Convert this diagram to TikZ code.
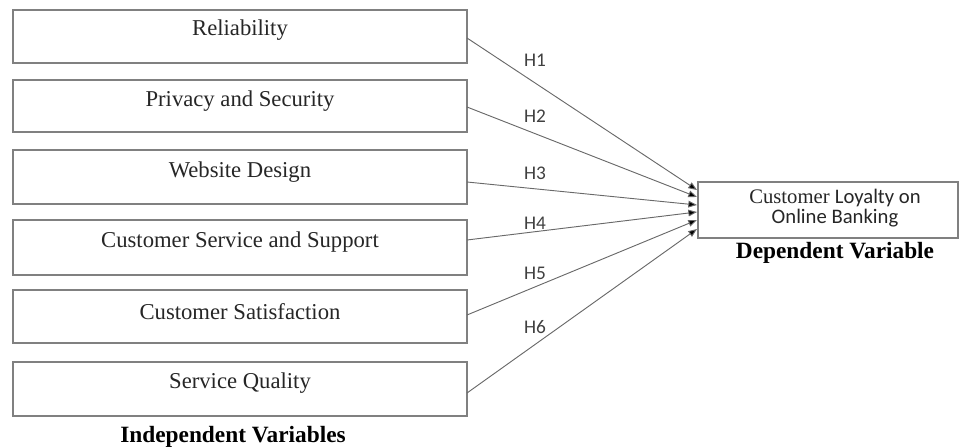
\documentclass[tikz,border=0pt]{standalone}
\usepackage[svgnames]{xcolor}
\usepackage{fontspec}
\setmainfont{Liberation Serif}
\newfontfamily\calibri{Carlito}
\usepackage{tikz}
\usetikzlibrary{arrows.meta}
\tikzstyle{none}=[inner sep=0pt]
\tikzstyle{simple}=[-,draw=Gray,line width=0.9pt]
\tikzstyle{hyp}=[-{Triangle[length=6.5pt,width=5pt,fill=Black]},draw=DimGray,line width=0.7pt]
\tikzstyle{var}=[inner sep=0pt,font=\fontsize{17}{19}\selectfont,text=Black!85]
\tikzstyle{hlabel}=[inner sep=0pt,font=\calibri\fontsize{14.5}{15}\selectfont,text=Black!75]
\tikzstyle{caption}=[inner sep=0pt,font=\bfseries\fontsize{17.5}{19}\selectfont]

\begin{document}
\begin{tikzpicture}[x=0.75pt,y=-0.75pt]
  \useasboundingbox (0,0) rectangle (960,448);
  % independent variables
  \node [style=none] (0) at (13, 10) {};
  \node [style=none] (1) at (467, 63) {};
  \node [style=var] (2) at (240, 30) {Reliability};
  \node [style=none] (3) at (13, 80) {};
  \node [style=none] (4) at (467, 132) {};
  \node [style=var] (5) at (240, 101) {Privacy and Security};
  \node [style=none] (6) at (13, 150) {};
  \node [style=none] (7) at (467, 204) {};
  \node [style=var] (8) at (240, 172) {Website Design};
  \node [style=none] (9) at (13, 220) {};
  \node [style=none] (10) at (467, 275) {};
  \node [style=var] (11) at (240, 242) {Customer Service and Support};
  \node [style=none] (12) at (13, 290) {};
  \node [style=none] (13) at (467, 343) {};
  \node [style=var] (14) at (240, 312) {Customer Satisfaction};
  \node [style=none] (15) at (13, 362) {};
  \node [style=none] (16) at (467, 416) {};
  \node [style=var] (17) at (240, 383) {Service Quality};
  \node [style=caption] (18) at (233, 437) {Independent Variables};
  % dependent variable
  \node [style=none] (19) at (698, 182) {};
  \node [style=none] (20) at (958, 238) {};
  \node [style=var, align=center, font=\fontsize{15.5}{15}\selectfont] (21) at (835, 208)
    {Customer {\calibri Loyalty on}\\ {\calibri Online Banking}};
  \node [style=caption] (22) at (835, 253) {Dependent Variable};
  % arrow ends
  \node [style=none] (23) at (467, 38) {};
  \node [style=none] (24) at (467, 107) {};
  \node [style=none] (25) at (467, 182) {};
  \node [style=none] (26) at (467, 240) {};
  \node [style=none] (27) at (467, 315) {};
  \node [style=none] (28) at (467, 393) {};
  \node [style=none] (29) at (697, 190) {};
  \node [style=none] (30) at (697, 197) {};
  \node [style=none] (31) at (697, 205) {};
  \node [style=none] (32) at (697, 212) {};
  \node [style=none] (33) at (697, 220) {};
  \node [style=none] (34) at (697, 229) {};
  % hypotheses
  \node [style=hlabel] (35) at (535, 60) {H1};
  \node [style=hlabel] (36) at (535, 116) {H2};
  \node [style=hlabel] (37) at (535, 173) {H3};
  \node [style=hlabel] (38) at (535, 223) {H4};
  \node [style=hlabel] (39) at (535, 273) {H5};
  \node [style=hlabel] (40) at (535, 327) {H6};
  \draw [style=simple] (0.center) rectangle (1.center);
  \draw [style=simple] (3.center) rectangle (4.center);
  \draw [style=simple] (6.center) rectangle (7.center);
  \draw [style=simple] (9.center) rectangle (10.center);
  \draw [style=simple] (12.center) rectangle (13.center);
  \draw [style=simple] (15.center) rectangle (16.center);
  \draw [style=simple] (19.center) rectangle (20.center);
  \draw [style=hyp] (23.center) to (29.center);
  \draw [style=hyp] (24.center) to (30.center);
  \draw [style=hyp] (25.center) to (31.center);
  \draw [style=hyp] (26.center) to (32.center);
  \draw [style=hyp] (27.center) to (33.center);
  \draw [style=hyp] (28.center) to (34.center);
\end{tikzpicture}
\end{document}
